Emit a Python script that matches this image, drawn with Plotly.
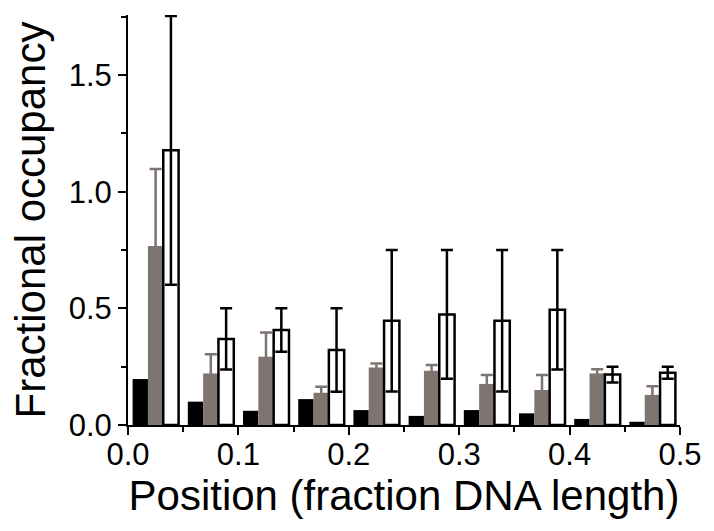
import plotly.graph_objects as go

positions = [0.025, 0.075, 0.125, 0.175, 0.225, 0.275, 0.325, 0.375, 0.425, 0.475]

black_vals = [0.197, 0.100, 0.061, 0.111, 0.064, 0.039, 0.064, 0.050, 0.026, 0.014]

gray_vals = [0.767, 0.221, 0.293, 0.138, 0.246, 0.233, 0.176, 0.150, 0.221, 0.129]
gray_err = [0.330, 0.082, 0.103, 0.026, 0.018, 0.024, 0.038, 0.064, 0.018, 0.037]

white_vals = [1.177, 0.369, 0.407, 0.321, 0.447, 0.474, 0.447, 0.494, 0.216, 0.224]
white_err = [0.576, 0.131, 0.093, 0.179, 0.303, 0.276, 0.303, 0.256, 0.034, 0.026]

x_ticks = [0.0, 0.1, 0.2, 0.3, 0.4, 0.5]
y_ticks = [0.0, 0.5, 1.0, 1.5]

GRAY = "#7e7470"

fig = go.Figure()
fig.add_trace(go.Bar(
    x=positions, y=black_vals, marker=dict(color="black", line=dict(width=0)),
    cliponaxis=False, showlegend=False,
))
fig.add_trace(go.Bar(
    x=positions, y=gray_vals, marker=dict(color=GRAY, line=dict(width=0)),
    error_y=dict(type="data", array=gray_err, color=GRAY, thickness=2.5, width=6),
    cliponaxis=False, showlegend=False,
))
fig.add_trace(go.Bar(
    x=positions, y=white_vals, marker=dict(color="white", line=dict(color="black", width=2.5)),
    error_y=dict(type="data", array=white_err, color="black", thickness=2.5, width=6),
    cliponaxis=False, showlegend=False,
))

font_family = "Liberation Sans, Arial, sans-serif"

fig.update_layout(
    width=714, height=531,
    margin=dict(l=128, r=34, t=15, b=106),
    paper_bgcolor="white", plot_bgcolor="white",
    barmode="group", bargap=0.167, bargroupgap=0,
    font=dict(family=font_family, color="black"),
)
fig.update_xaxes(
    range=[0, 0.5], tickvals=x_ticks, ticktext=[f"{v:.1f}" for v in x_ticks],
    ticks="outside", ticklen=8, tickwidth=2, tickcolor="black",
    minor=dict(dtick=0.05, ticks="outside", ticklen=5, tickwidth=2, tickcolor="black"),
    showline=True, linewidth=2, linecolor="black", showgrid=False, zeroline=False,
    tickfont=dict(size=31, family=font_family), automargin=False, ticklabelstandoff=-7,
    title=dict(text="Position (fraction DNA length)", font=dict(size=42, family=font_family), standoff=0),
)
fig.update_yaxes(
    range=[0, 1.757], tickvals=y_ticks, ticktext=[f"{v:.1f}" for v in y_ticks],
    ticks="outside", ticklen=8, tickwidth=2, tickcolor="black",
    minor=dict(dtick=0.25, ticks="outside", ticklen=5, tickwidth=2, tickcolor="black"),
    showline=True, linewidth=2, linecolor="black", showgrid=False, zeroline=False,
    tickfont=dict(size=31, family=font_family), automargin=False,
    title=dict(text="Fractional occupancy", font=dict(size=42, family=font_family), standoff=10),
)

fig.write_html("out.html", config={"displayModeBar": False},
               post_script="document.body.style.margin='0';")
